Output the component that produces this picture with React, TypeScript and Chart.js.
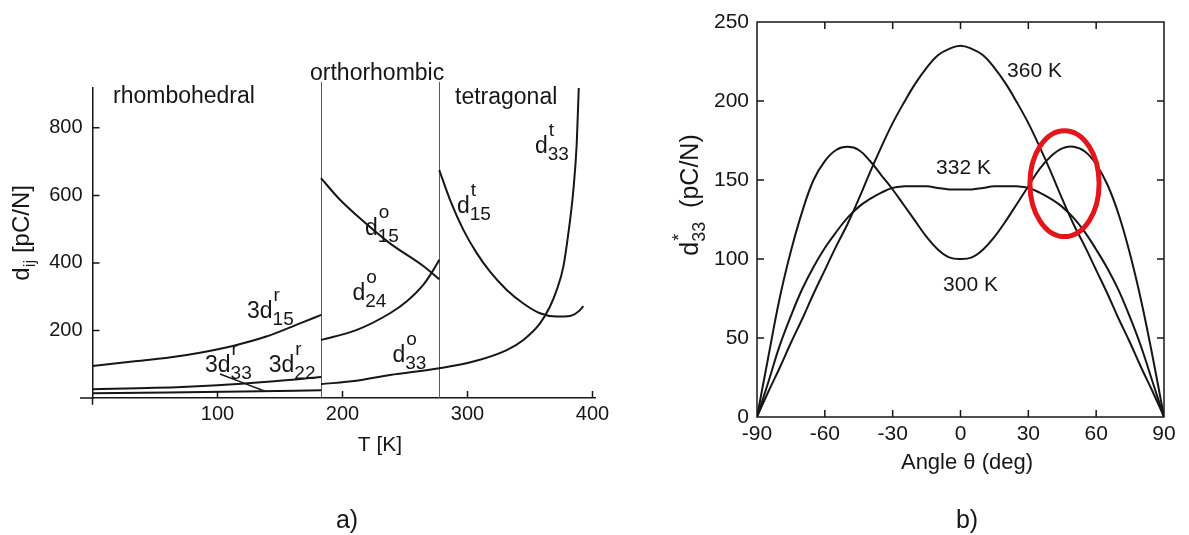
import React, { useEffect, useRef } from 'react';
import { Chart, registerables } from 'chart.js';

Chart.register(...registerables);

const FONT = '"Liberation Sans", Arial, Helvetica, sans-serif';
const INK = '#161616';

// ---------------- Panel a) : d_ij versus T ----------------
const A_X_TICKS = [100, 200, 300, 400];
const A_Y_TICKS = [200, 400, 600, 800];
const A_X_MIN = 0;
const A_X_MAX = 402;
const A_Y_MIN = 0;
const A_Y_MAX = 918;
const PHASE_BOUNDARIES_T = [182.8, 277.4];

// rhombohedral
const R15_T = [0, 32, 60, 86, 113, 139, 166, 183];
const R15_D = [95, 108, 119, 134, 155, 182, 221, 246];
const R22_T = [0, 50, 100, 140, 183];
const R22_D = [26, 30, 38, 48, 62];
const RLOW_T = [0, 60, 120, 183];
const RLOW_D = [14, 16, 19, 23];
const R33_T = [102, 138];
const R33_D = [71, 20];
// orthorhombic
const O15_T = [182.8, 198, 211, 238, 264.6, 277.4];
const O15_D = [651, 587, 542, 458, 391, 352];
const O24_T = [182.8, 211, 238, 251, 264.6, 271, 277.4];
const O24_D = [172, 201, 251, 285, 335, 369, 409];
// d33 orthorhombic -> tetragonal
const D33_T = [182.8, 211, 238, 277.4, 304.7, 331.4, 344.7, 358, 366, 371.4, 376.7, 380.7, 384.7, 387.4, 389];
const D33_D = [41, 51, 68, 88, 108, 142, 172, 221, 271, 320, 389, 488, 616, 755, 918];
// tetragonal d15
const T15_T = [277.4, 286, 296.7, 307.4, 318, 331.4, 344.7, 358, 371.4, 382, 388.7, 392.7];
const T15_D = [675, 587, 498, 429, 374, 320, 280, 251, 241, 243, 256, 272];

const PHASE_LABELS = [
  { text: 'rhombohedral', t: 16.4, d: 874 },
  { text: 'orthorhombic', t: 174, d: 942 },
  { text: 'tetragonal', t: 290, d: 871 },
];
const CURVE_LABELS_A = [
  { main: '3d', sub: '15', sup: 'r', t: 123.6, d: 237 },
  { main: '3d', sub: '33', sup: 'r', t: 90, d: 77 },
  { main: '3d', sub: '22', sup: 'r', t: 141, d: 77 },
  { main: 'd', sub: '15', sup: 'o', t: 218, d: 483 },
  { main: 'd', sub: '24', sup: 'o', t: 208, d: 290 },
  { main: 'd', sub: '33', sup: 'o', t: 240, d: 107 },
  { main: 'd', sub: '15', sup: 't', t: 291.6, d: 548 },
  { main: 'd', sub: '33', sup: 't', t: 354, d: 726 },
];

// ---------------- Panel b) : d*33 versus angle ----------------
const ANGLES = [-90, -85, -80, -75, -70, -65, -60, -55, -50, -45, -40, -35, -30, -25, -20, -15, -10, -5, 0,
  5, 10, 15, 20, 25, 30, 35, 40, 45, 50, 55, 60, 65, 70, 75, 80, 85, 90];
const D300K = [0, 38, 75, 105, 130, 150, 162, 169, 171, 169, 162, 153, 144, 134, 124, 114, 106, 101, 100,
  101, 106, 114, 124, 135, 146, 157, 165, 170, 171, 168, 160, 147, 128, 103, 73, 38, 0];
const D332K = [0, 22, 45, 64, 81, 95, 107, 117, 126, 133, 138, 142, 145, 146, 146, 146, 145, 144, 144,
  144, 145, 146, 146, 146, 145, 142, 138, 133, 126, 117, 106, 94, 80, 63, 44, 22, 0];
const D360K = [0, 16, 31, 47, 62, 78, 93, 108, 122, 138, 155, 171, 186, 199, 211, 221, 229, 233, 235,
  233, 229, 221, 211, 199, 186, 171, 155, 138, 122, 108, 93, 78, 62, 47, 31, 16, 0];
const B_X_TICK_STEP = 30;
const B_Y_TICK_STEP = 50;
const CURVE_LABELS_B = [
  { text: '360 K', a: 20.6, d: 215 },
  { text: '332 K', a: -10.8, d: 154 },
  { text: '300 K', a: -7.7, d: 80 },
];
const HIGHLIGHT = { a: 46, d: 147.7, ra: 15.3, rd: 33.5 };

// ---------------- helpers ----------------
const pts = (xs: number[], ys: number[]) => xs.map((x, i) => ({ x, y: ys[i] }));
const curve = (label: string, xs: number[], ys: number[], width = 2, smooth: 'monotone' | 'tension' = 'monotone') => ({
  label,
  data: pts(xs, ys),
  borderColor: INK,
  borderWidth: width,
  pointRadius: 0,
  fill: false,
  ...(smooth === 'monotone' ? { cubicInterpolationMode: 'monotone' as const } : { tension: 0.4 }),
});

function drawRich(ctx: CanvasRenderingContext2D, x: number, y: number, main: string, sub: string, sup: string, mainSize: number, subSize: number) {
  ctx.textAlign = 'left';
  ctx.textBaseline = 'alphabetic';
  ctx.font = `${mainSize}px ${FONT}`;
  ctx.fillText(main, x, y);
  const w = ctx.measureText(main).width;
  ctx.font = `${subSize}px ${FONT}`;
  if (sub) ctx.fillText(sub, x + w, y + subSize * 0.38);
  if (sup) ctx.fillText(sup, x + w + 1, y - mainSize * 0.74);
}

const leftDecor = {
  id: 'leftDecor',
  beforeDatasetsDraw(chart: any) {
    const { ctx, scales: { x, y } } = chart;
    ctx.save();
    ctx.strokeStyle = '#5a5a5a';
    ctx.lineWidth = 1;
    for (const t of PHASE_BOUNDARIES_T) {
      const px = Math.round(x.getPixelForValue(t)) + 0.5;
      ctx.beginPath();
      ctx.moveTo(px, y.getPixelForValue(936));
      ctx.lineTo(px, y.getPixelForValue(0));
      ctx.stroke();
    }
    ctx.restore();
  },
  afterDraw(chart: any) {
    const { ctx, scales: { x, y } } = chart;
    ctx.save();
    ctx.strokeStyle = INK;
    ctx.lineWidth = 1.5;
    const x0 = x.getPixelForValue(0);
    const y0 = y.getPixelForValue(0);
    // axis overhangs
    ctx.beginPath();
    ctx.moveTo(x.getPixelForValue(-10), y0);
    ctx.lineTo(x0, y0);
    ctx.moveTo(x0, y0);
    ctx.lineTo(x0, y.getPixelForValue(-20));
    // inward ticks
    for (const v of A_X_TICKS) {
      const px = x.getPixelForValue(v);
      ctx.moveTo(px, y0);
      ctx.lineTo(px, y0 - 7);
    }
    for (const v of A_Y_TICKS) {
      const py = y.getPixelForValue(v);
      ctx.moveTo(x0, py);
      ctx.lineTo(x0 + 7, py);
    }
    ctx.stroke();

    ctx.fillStyle = INK;
    // phase labels
    ctx.font = `23px ${FONT}`;
    ctx.textAlign = 'left';
    ctx.textBaseline = 'alphabetic';
    for (const l of PHASE_LABELS) ctx.fillText(l.text, x.getPixelForValue(l.t), y.getPixelForValue(l.d));
    // curve labels
    for (const l of CURVE_LABELS_A) drawRich(ctx, x.getPixelForValue(l.t), y.getPixelForValue(l.d), l.main, l.sub, l.sup, 23, 19);

    // axis titles
    ctx.font = `21px ${FONT}`;
    ctx.textAlign = 'center';
    ctx.textBaseline = 'middle';
    ctx.fillText('T [K]', x.getPixelForValue(230), 445);
    ctx.font = `25px ${FONT}`;
    ctx.fillText('a)', x.getPixelForValue(203.6), 521);

    // y title rotated: d_ij [pC/N]
    ctx.translate(21, y.getPixelForValue(489));
    ctx.rotate(-Math.PI / 2);
    ctx.font = `24px ${FONT}`;
    const wd = ctx.measureText('d').width;
    ctx.font = `17px ${FONT}`;
    const wij = ctx.measureText('ij').width;
    ctx.font = `24px ${FONT}`;
    const wr = ctx.measureText(' [pC/N]').width;
    const total = wd + wij + wr;
    let cx = -total / 2;
    const base = 8;
    ctx.textAlign = 'left';
    ctx.textBaseline = 'alphabetic';
    ctx.fillText('d', cx, base);
    cx += wd;
    ctx.font = `17px ${FONT}`;
    ctx.fillText('ij', cx, base + 6);
    cx += wij;
    ctx.font = `24px ${FONT}`;
    ctx.fillText(' [pC/N]', cx, base);
    ctx.restore();
  },
};

const rightDecor = {
  id: 'rightDecor',
  afterDraw(chart: any) {
    const { ctx, chartArea: ca, scales: { x, y } } = chart;
    ctx.save();
    ctx.strokeStyle = INK;
    ctx.lineWidth = 1.5;
    ctx.strokeRect(ca.left, ca.top, ca.right - ca.left, ca.bottom - ca.top);
    ctx.beginPath();
    for (const t of x.ticks) {
      if (t.value <= x.min || t.value >= x.max) continue;
      const px = x.getPixelForValue(t.value);
      ctx.moveTo(px, ca.bottom);
      ctx.lineTo(px, ca.bottom - 7);
      ctx.moveTo(px, ca.top);
      ctx.lineTo(px, ca.top + 7);
    }
    for (const t of y.ticks) {
      if (t.value <= y.min || t.value >= y.max) continue;
      const py = y.getPixelForValue(t.value);
      ctx.moveTo(ca.left, py);
      ctx.lineTo(ca.left + 7, py);
      ctx.moveTo(ca.right, py);
      ctx.lineTo(ca.right - 7, py);
    }
    ctx.stroke();

    // red highlight ellipse
    const cx = x.getPixelForValue(HIGHLIGHT.a);
    const cy = y.getPixelForValue(HIGHLIGHT.d);
    const rx = Math.abs(x.getPixelForValue(HIGHLIGHT.a + HIGHLIGHT.ra) - cx);
    const ry = Math.abs(y.getPixelForValue(HIGHLIGHT.d + HIGHLIGHT.rd) - cy);
    ctx.strokeStyle = '#e3151d';
    ctx.lineWidth = 5;
    ctx.beginPath();
    ctx.ellipse(cx, cy, rx, ry, 0, 0, Math.PI * 2);
    ctx.stroke();

    // curve labels
    ctx.fillStyle = INK;
    ctx.font = `21px ${FONT}`;
    ctx.textAlign = 'left';
    ctx.textBaseline = 'alphabetic';
    for (const l of CURVE_LABELS_B) ctx.fillText(l.text, x.getPixelForValue(l.a), y.getPixelForValue(l.d));

    // x title and panel label
    ctx.textAlign = 'center';
    ctx.textBaseline = 'middle';
    ctx.font = `22px ${FONT}`;
    ctx.fillText('Angle \u03b8 (deg)', 347, 463);
    ctx.font = `25px ${FONT}`;
    ctx.fillText('b)', 347, 521);

    // y title rotated: d*33 (pC/N)
    ctx.translate(70, 195);
    ctx.rotate(-Math.PI / 2);
    ctx.textAlign = 'left';
    ctx.textBaseline = 'alphabetic';
    ctx.font = `25px ${FONT}`;
    const wd = ctx.measureText('d').width;
    ctx.font = `18px ${FONT}`;
    const ws = ctx.measureText('33').width;
    ctx.font = `25px ${FONT}`;
    const wr = ctx.measureText('  (pC/N)').width;
    let px = -(wd + ws + wr) / 2;
    const base = 8;
    ctx.fillText('d', px, base);
    px += wd;
    ctx.font = `18px ${FONT}`;
    ctx.fillText('33', px, base + 7);
    ctx.fillText('*', px + 1, base - 13);
    px += ws;
    ctx.font = `25px ${FONT}`;
    ctx.fillText('  (pC/N)', px, base);
    ctx.restore();
  },
};

export default function App() {
  const aRef = useRef<HTMLCanvasElement>(null);
  const bRef = useRef<HTMLCanvasElement>(null);

  useEffect(() => {
    const tickFont = { size: 20, family: FONT };
    const chartA = new Chart(aRef.current as HTMLCanvasElement, {
      type: 'line',
      data: {
        datasets: [
          curve('3d15 r', R15_T, R15_D),
          curve('3d22 r', R22_T, R22_D),
          curve('3d low r', RLOW_T, RLOW_D),
          curve('3d33 r', R33_T, R33_D, 1.5),
          curve('d15 o', O15_T, O15_D),
          curve('d24 o', O24_T, O24_D),
          curve('d33 o/t', D33_T, D33_D),
          curve('d15 t', T15_T, T15_D),
        ] as any,
      },
      options: {
        animation: false,
        responsive: false,
        maintainAspectRatio: false,
        events: [],
        layout: { padding: { left: 0, right: 25, top: 88, bottom: 0 } },
        plugins: { legend: { display: false }, tooltip: { enabled: false } },
        scales: {
          x: {
            type: 'linear',
            min: A_X_MIN,
            max: A_X_MAX,
            afterBuildTicks: (s: any) => { s.ticks = A_X_TICKS.map((v) => ({ value: v })); },
            afterFit: (s: any) => { s.height = 137; },
            grid: { display: false, drawTicks: false },
            border: { display: true, color: INK, width: 1.5 },
            ticks: { font: tickFont, color: INK, padding: 4, maxRotation: 0, autoSkip: false },
          },
          y: {
            type: 'linear',
            min: A_Y_MIN,
            max: A_Y_MAX,
            afterBuildTicks: (s: any) => { s.ticks = A_Y_TICKS.map((v) => ({ value: v })); },
            afterFit: (s: any) => { s.width = 92.5; },
            grid: { display: false, drawTicks: false },
            border: { display: true, color: INK, width: 1.5 },
            ticks: { font: tickFont, color: INK, padding: 10, autoSkip: false },
          },
        },
      } as any,
      plugins: [leftDecor],
    });

    const chartB = new Chart(bRef.current as HTMLCanvasElement, {
      type: 'line',
      data: {
        datasets: [
          curve('300 K', ANGLES, D300K, 2, 'tension'),
          curve('332 K', ANGLES, D332K, 2, 'tension'),
          curve('360 K', ANGLES, D360K, 2, 'tension'),
        ] as any,
      },
      options: {
        animation: false,
        responsive: false,
        maintainAspectRatio: false,
        events: [],
        layout: { padding: { left: 0, right: 25, top: 22, bottom: 0 } },
        plugins: { legend: { display: false }, tooltip: { enabled: false } },
        scales: {
          x: {
            type: 'linear',
            min: -90,
            max: 90,
            afterFit: (s: any) => { s.height = 118; },
            grid: { display: false, drawTicks: false },
            border: { display: false },
            ticks: { stepSize: B_X_TICK_STEP, font: { size: 21, family: FONT }, color: INK, padding: 5, maxRotation: 0, autoSkip: false },
          },
          y: {
            type: 'linear',
            min: 0,
            max: 250,
            afterFit: (s: any) => { s.width = 137; },
            grid: { display: false, drawTicks: false },
            border: { display: false },
            ticks: { stepSize: B_Y_TICK_STEP, font: { size: 21, family: FONT }, color: INK, padding: 8, autoSkip: false },
          },
        },
      } as any,
      plugins: [rightDecor],
    });

    return () => {
      chartA.destroy();
      chartB.destroy();
    };
  }, []);

  return (
    <div style={{ position: 'fixed', left: 0, top: 0, width: 1189, height: 535, background: '#fff' }}>
      <canvas ref={aRef} width={620} height={535} style={{ position: 'absolute', left: 0, top: 0, width: 620, height: 535 }} />
      <canvas ref={bRef} width={569} height={535} style={{ position: 'absolute', left: 620, top: 0, width: 569, height: 535 }} />
    </div>
  );
}
